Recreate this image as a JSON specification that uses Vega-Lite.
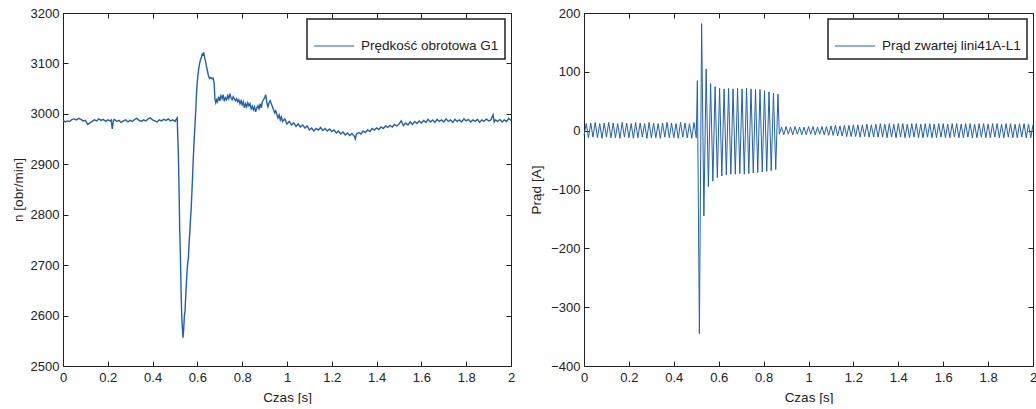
{
  "$schema": "https://vega.github.io/schema/vega-lite/v6.json",
  "padding": {"left": 11, "top": 7, "right": 0, "bottom": 0},
  "background": "white",
  "config": {
    "font": "Liberation Sans",
    "view": {"stroke": null},
    "concat": {"spacing": 14},
    "axis": {
      "grid": false,
      "labelFontSize": 13,
      "titleFontSize": 13.5,
      "titleFontWeight": "normal",
      "labelColor": "#222",
      "titleColor": "#222",
      "tickColor": "#222",
      "domainColor": "#222",
      "domainWidth": 1,
      "tickSize": -5,
      "labelFlush": false,
      "labelOverlap": false
    },
    "legend": {
      "orient": "top-right",
      "offset": 6,
      "strokeColor": "#222",
      "strokeWidth": 1.5,
      "fillColor": "white",
      "padding": 6,
      "symbolType": "stroke",
      "symbolSize": 1600,
      "symbolStrokeWidth": 1.2,
      "labelFontSize": 13.5,
      "labelColor": "#222",
      "labelOffset": 6,
      "title": null
    }
  },
  "datasets": {
    "speed": [
      {"t":0.00,"v":2987},{"t":0.01,"v":2984},{"t":0.02,"v":2986},{"t":0.03,"v":2985},{"t":0.04,"v":2989},{"t":0.05,"v":2990},{"t":0.06,"v":2988},{"t":0.07,"v":2991},{"t":0.08,"v":2989},{"t":0.09,"v":2986},
      {"t":0.10,"v":2987},{"t":0.11,"v":2979},{"t":0.12,"v":2982},{"t":0.13,"v":2985},{"t":0.14,"v":2988},{"t":0.15,"v":2986},{"t":0.16,"v":2990},{"t":0.17,"v":2987},{"t":0.18,"v":2989},{"t":0.19,"v":2985},
      {"t":0.20,"v":2988},{"t":0.21,"v":2986},{"t":0.215,"v":2988},{"t":0.22,"v":2970},{"t":0.225,"v":2987},{"t":0.23,"v":2989},{"t":0.24,"v":2985},{"t":0.25,"v":2987},{"t":0.26,"v":2983},{"t":0.27,"v":2986},
      {"t":0.28,"v":2988},{"t":0.29,"v":2984},{"t":0.30,"v":2987},{"t":0.31,"v":2985},{"t":0.32,"v":2989},{"t":0.33,"v":2991},{"t":0.34,"v":2987},{"t":0.35,"v":2985},{"t":0.36,"v":2988},{"t":0.37,"v":2986},
      {"t":0.38,"v":2990},{"t":0.39,"v":2992},{"t":0.40,"v":2988},{"t":0.41,"v":2986},{"t":0.42,"v":2984},{"t":0.43,"v":2988},{"t":0.44,"v":2986},{"t":0.45,"v":2989},{"t":0.46,"v":2987},{"t":0.47,"v":2990},
      {"t":0.48,"v":2986},{"t":0.49,"v":2988},{"t":0.50,"v":2985},{"t":0.505,"v":2989},{"t":0.51,"v":2992},{"t":0.512,"v":2960},{"t":0.515,"v":2920},{"t":0.518,"v":2850},{"t":0.521,"v":2770},{"t":0.524,"v":2720},
      {"t":0.527,"v":2650},{"t":0.530,"v":2600},{"t":0.533,"v":2575},{"t":0.536,"v":2556},{"t":0.539,"v":2575},{"t":0.542,"v":2600},{"t":0.545,"v":2610},{"t":0.548,"v":2640},{"t":0.551,"v":2665},{"t":0.554,"v":2690},
      {"t":0.557,"v":2705},{"t":0.560,"v":2715},{"t":0.563,"v":2745},{"t":0.566,"v":2765},{"t":0.569,"v":2790},{"t":0.572,"v":2810},{"t":0.575,"v":2840},{"t":0.578,"v":2870},{"t":0.581,"v":2905},{"t":0.584,"v":2935},
      {"t":0.587,"v":2960},{"t":0.590,"v":2985},{"t":0.593,"v":3010},{"t":0.596,"v":3040},{"t":0.599,"v":3060},{"t":0.602,"v":3075},{"t":0.606,"v":3090},{"t":0.610,"v":3100},{"t":0.614,"v":3108},{"t":0.618,"v":3112},
      {"t":0.622,"v":3120},{"t":0.625,"v":3115},{"t":0.628,"v":3122},{"t":0.632,"v":3112},{"t":0.636,"v":3105},{"t":0.640,"v":3095},{"t":0.645,"v":3085},{"t":0.650,"v":3074},{"t":0.655,"v":3070},{"t":0.660,"v":3072},
      {"t":0.665,"v":3070},{"t":0.670,"v":3071},{"t":0.675,"v":3060},{"t":0.678,"v":3030},{"t":0.682,"v":3022},{"t":0.686,"v":3028},{"t":0.690,"v":3024},{"t":0.695,"v":3034},{"t":0.70,"v":3026},{"t":0.705,"v":3036},
      {"t":0.71,"v":3030},{"t":0.715,"v":3038},{"t":0.72,"v":3025},{"t":0.725,"v":3032},{"t":0.73,"v":3028},{"t":0.735,"v":3036},{"t":0.74,"v":3030},{"t":0.745,"v":3040},{"t":0.75,"v":3032},{"t":0.755,"v":3028},
      {"t":0.76,"v":3034},{"t":0.77,"v":3026},{"t":0.775,"v":3030},{"t":0.78,"v":3024},{"t":0.785,"v":3028},{"t":0.79,"v":3020},{"t":0.795,"v":3026},{"t":0.80,"v":3018},{"t":0.805,"v":3024},{"t":0.81,"v":3012},
      {"t":0.815,"v":3020},{"t":0.82,"v":3014},{"t":0.825,"v":3022},{"t":0.83,"v":3016},{"t":0.835,"v":3020},{"t":0.84,"v":3010},{"t":0.845,"v":3015},{"t":0.85,"v":3008},{"t":0.855,"v":3014},{"t":0.86,"v":3004},
      {"t":0.865,"v":3012},{"t":0.87,"v":3016},{"t":0.875,"v":3010},{"t":0.88,"v":3020},{"t":0.885,"v":3012},{"t":0.89,"v":3024},{"t":0.895,"v":3028},{"t":0.90,"v":3032},{"t":0.905,"v":3038},{"t":0.91,"v":3022},
      {"t":0.915,"v":3014},{"t":0.92,"v":3022},{"t":0.925,"v":3026},{"t":0.93,"v":3020},{"t":0.935,"v":3014},{"t":0.94,"v":3008},{"t":0.945,"v":3002},{"t":0.95,"v":3006},{"t":0.955,"v":2998},{"t":0.96,"v":2992},
      {"t":0.965,"v":2998},{"t":0.97,"v":2988},{"t":0.975,"v":2994},{"t":0.98,"v":2985},{"t":0.99,"v":2990},{"t":1.00,"v":2980},{"t":1.01,"v":2985},{"t":1.02,"v":2978},{"t":1.03,"v":2982},{"t":1.04,"v":2975},
      {"t":1.05,"v":2980},{"t":1.06,"v":2974},{"t":1.07,"v":2978},{"t":1.08,"v":2972},{"t":1.09,"v":2976},{"t":1.10,"v":2968},{"t":1.11,"v":2972},{"t":1.12,"v":2966},{"t":1.13,"v":2971},{"t":1.14,"v":2968},
      {"t":1.15,"v":2973},{"t":1.16,"v":2967},{"t":1.17,"v":2971},{"t":1.18,"v":2966},{"t":1.19,"v":2970},{"t":1.20,"v":2965},{"t":1.21,"v":2968},{"t":1.22,"v":2962},{"t":1.23,"v":2966},{"t":1.24,"v":2960},
      {"t":1.25,"v":2964},{"t":1.26,"v":2958},{"t":1.27,"v":2962},{"t":1.28,"v":2957},{"t":1.29,"v":2961},{"t":1.30,"v":2956},{"t":1.305,"v":2950},{"t":1.31,"v":2960},{"t":1.32,"v":2963},{"t":1.33,"v":2960},
      {"t":1.34,"v":2966},{"t":1.35,"v":2963},{"t":1.36,"v":2968},{"t":1.37,"v":2965},{"t":1.38,"v":2971},{"t":1.39,"v":2968},{"t":1.40,"v":2972},{"t":1.41,"v":2969},{"t":1.42,"v":2974},{"t":1.43,"v":2971},
      {"t":1.44,"v":2976},{"t":1.45,"v":2973},{"t":1.46,"v":2977},{"t":1.47,"v":2974},{"t":1.48,"v":2979},{"t":1.49,"v":2976},{"t":1.50,"v":2980},{"t":1.51,"v":2986},{"t":1.52,"v":2977},{"t":1.53,"v":2982},
      {"t":1.54,"v":2978},{"t":1.55,"v":2984},{"t":1.56,"v":2979},{"t":1.57,"v":2985},{"t":1.58,"v":2981},{"t":1.59,"v":2986},{"t":1.60,"v":2982},{"t":1.61,"v":2987},{"t":1.62,"v":2983},{"t":1.63,"v":2989},
      {"t":1.64,"v":2984},{"t":1.65,"v":2988},{"t":1.66,"v":2983},{"t":1.67,"v":2989},{"t":1.68,"v":2985},{"t":1.69,"v":2988},{"t":1.70,"v":2984},{"t":1.71,"v":2990},{"t":1.72,"v":2985},{"t":1.73,"v":2988},
      {"t":1.74,"v":2983},{"t":1.75,"v":2989},{"t":1.76,"v":2985},{"t":1.77,"v":2988},{"t":1.78,"v":2984},{"t":1.79,"v":2990},{"t":1.80,"v":2986},{"t":1.81,"v":2989},{"t":1.82,"v":2984},{"t":1.83,"v":2988},
      {"t":1.84,"v":2985},{"t":1.85,"v":2989},{"t":1.86,"v":2983},{"t":1.87,"v":2988},{"t":1.88,"v":2985},{"t":1.89,"v":2990},{"t":1.90,"v":2986},{"t":1.91,"v":2988},{"t":1.92,"v":2998},{"t":1.925,"v":2984},
      {"t":1.93,"v":2988},{"t":1.94,"v":2985},{"t":1.95,"v":2989},{"t":1.96,"v":2984},{"t":1.97,"v":2988},{"t":1.98,"v":2985},{"t":1.99,"v":2991},{"t":2.00,"v":2987}
    ],
    "current": [
      {"t":0.00,"i":-8},{"t":0.01,"i":12},{"t":0.02,"i":-12},{"t":0.03,"i":13},{"t":0.04,"i":-11},{"t":0.05,"i":14},{"t":0.06,"i":-12},{"t":0.07,"i":12},{"t":0.08,"i":-13},{"t":0.09,"i":13},
      {"t":0.10,"i":-11},{"t":0.11,"i":14},{"t":0.12,"i":-12},{"t":0.13,"i":13},{"t":0.14,"i":-12},{"t":0.15,"i":12},{"t":0.16,"i":-13},{"t":0.17,"i":14},{"t":0.18,"i":-11},{"t":0.19,"i":13},
      {"t":0.20,"i":-12},{"t":0.21,"i":12},{"t":0.22,"i":-13},{"t":0.23,"i":14},{"t":0.24,"i":-12},{"t":0.25,"i":13},{"t":0.26,"i":-11},{"t":0.27,"i":12},{"t":0.28,"i":-13},{"t":0.29,"i":14},
      {"t":0.30,"i":-12},{"t":0.31,"i":13},{"t":0.32,"i":-12},{"t":0.33,"i":12},{"t":0.34,"i":-13},{"t":0.35,"i":13},{"t":0.36,"i":-11},{"t":0.37,"i":14},{"t":0.38,"i":-12},{"t":0.39,"i":13},
      {"t":0.40,"i":-12},{"t":0.41,"i":12},{"t":0.42,"i":-13},{"t":0.43,"i":14},{"t":0.44,"i":-11},{"t":0.45,"i":13},{"t":0.46,"i":-12},{"t":0.47,"i":12},{"t":0.48,"i":-13},{"t":0.49,"i":14},
      {"t":0.50,"i":-12},{"t":0.505,"i":85},{"t":0.514,"i":-345},{"t":0.524,"i":182},{"t":0.534,"i":-145},{"t":0.544,"i":105},{"t":0.554,"i":-95},{"t":0.564,"i":80},{"t":0.574,"i":-86},{"t":0.584,"i":75},
      {"t":0.594,"i":-80},{"t":0.604,"i":72},{"t":0.614,"i":-77},{"t":0.624,"i":71},{"t":0.634,"i":-75},{"t":0.644,"i":72},{"t":0.654,"i":-74},{"t":0.664,"i":71},{"t":0.674,"i":-74},{"t":0.684,"i":72},
      {"t":0.694,"i":-73},{"t":0.704,"i":71},{"t":0.714,"i":-74},{"t":0.724,"i":72},{"t":0.734,"i":-73},{"t":0.744,"i":71},{"t":0.754,"i":-72},{"t":0.764,"i":70},{"t":0.774,"i":-71},{"t":0.784,"i":70},
      {"t":0.794,"i":-70},{"t":0.804,"i":68},{"t":0.814,"i":-69},{"t":0.824,"i":66},{"t":0.834,"i":-68},{"t":0.844,"i":64},{"t":0.854,"i":-66},{"t":0.864,"i":62},
      {"t":0.87,"i":-6},{"t":0.88,"i":6},{"t":0.89,"i":-7},{"t":0.90,"i":7},{"t":0.91,"i":-6},{"t":0.92,"i":6},{"t":0.93,"i":-7},{"t":0.94,"i":7},{"t":0.95,"i":-6},{"t":0.96,"i":6},
      {"t":0.97,"i":-7},{"t":0.98,"i":6},{"t":0.99,"i":-7},{"t":1.00,"i":7},{"t":1.01,"i":-6},{"t":1.02,"i":7},{"t":1.03,"i":-7},{"t":1.04,"i":6},{"t":1.05,"i":-6},{"t":1.06,"i":7},
      {"t":1.07,"i":-7},{"t":1.08,"i":7},{"t":1.09,"i":-8},{"t":1.10,"i":8},{"t":1.11,"i":-8},{"t":1.12,"i":9},{"t":1.13,"i":-9},{"t":1.14,"i":8},{"t":1.15,"i":-9},{"t":1.16,"i":9},
      {"t":1.17,"i":-10},{"t":1.18,"i":9},{"t":1.19,"i":-10},{"t":1.20,"i":10},{"t":1.21,"i":-10},{"t":1.22,"i":10},{"t":1.23,"i":-11},{"t":1.24,"i":10},{"t":1.25,"i":-10},{"t":1.26,"i":11},
      {"t":1.27,"i":-11},{"t":1.28,"i":10},{"t":1.29,"i":-11},{"t":1.30,"i":11},{"t":1.31,"i":-11},{"t":1.32,"i":12},{"t":1.33,"i":-11},{"t":1.34,"i":11},{"t":1.35,"i":-12},{"t":1.36,"i":12},
      {"t":1.37,"i":-11},{"t":1.38,"i":11},{"t":1.39,"i":-12},{"t":1.40,"i":12},{"t":1.41,"i":-11},{"t":1.42,"i":12},{"t":1.43,"i":-12},{"t":1.44,"i":11},{"t":1.45,"i":-12},{"t":1.46,"i":12},
      {"t":1.47,"i":-11},{"t":1.48,"i":12},{"t":1.49,"i":-12},{"t":1.50,"i":11},{"t":1.51,"i":-12},{"t":1.52,"i":12},{"t":1.53,"i":-11},{"t":1.54,"i":12},{"t":1.55,"i":-12},{"t":1.56,"i":11},
      {"t":1.57,"i":-12},{"t":1.58,"i":12},{"t":1.59,"i":-11},{"t":1.60,"i":12},{"t":1.61,"i":-12},{"t":1.62,"i":11},{"t":1.63,"i":-12},{"t":1.64,"i":12},{"t":1.65,"i":-11},{"t":1.66,"i":12},
      {"t":1.67,"i":-12},{"t":1.68,"i":11},{"t":1.69,"i":-12},{"t":1.70,"i":12},{"t":1.71,"i":-11},{"t":1.72,"i":12},{"t":1.73,"i":-12},{"t":1.74,"i":11},{"t":1.75,"i":-12},{"t":1.76,"i":12},
      {"t":1.77,"i":-11},{"t":1.78,"i":12},{"t":1.79,"i":-12},{"t":1.80,"i":11},{"t":1.81,"i":-12},{"t":1.82,"i":12},{"t":1.83,"i":-11},{"t":1.84,"i":12},{"t":1.85,"i":-12},{"t":1.86,"i":11},
      {"t":1.87,"i":-12},{"t":1.88,"i":12},{"t":1.89,"i":-11},{"t":1.90,"i":12},{"t":1.91,"i":-12},{"t":1.92,"i":11},{"t":1.93,"i":-12},{"t":1.94,"i":12},{"t":1.95,"i":-11},{"t":1.96,"i":12},
      {"t":1.97,"i":-12},{"t":1.98,"i":11},{"t":1.99,"i":-12},{"t":2.00,"i":10}
    ]
  },
  "resolve": {"scale": {"color": "independent"}, "legend": {"color": "independent"}},
  "hconcat": [
    {
      "width": 448,
      "height": 353,
      "data": {"name": "speed"},
      "layer": [
        {
          "mark": {"type": "line", "strokeWidth": 1.4, "interpolate": "linear"},
          "encoding": {
            "x": {"field": "t", "type": "quantitative", "scale": {"domain": [0, 2], "nice": false},
                  "axis": {"orient": "bottom", "title": "Czas [s]", "values": [0,0.2,0.4,0.6,0.8,1,1.2,1.4,1.6,1.8,2], "format": ".1~f", "labelPadding": 10, "titlePadding": 6}},
            "y": {"field": "v", "type": "quantitative", "scale": {"domain": [2500, 3200], "nice": false, "zero": false},
                  "axis": {"orient": "left", "title": "n [obr/min]", "values": [2500,2600,2700,2800,2900,3000,3100,3200], "format": "d", "labelPadding": 9, "titlePadding": 5}},
            "color": {"datum": "Prędkość obrotowa G1", "type": "nominal", "scale": {"range": ["#2060b0"]}}
          }
        },
        {
          "mark": {"type": "line", "opacity": 0},
          "encoding": {
            "x": {"field": "t", "type": "quantitative",
                  "axis": {"orient": "top", "title": null, "labels": false, "values": [0,0.2,0.4,0.6,0.8,1,1.2,1.4,1.6,1.8,2]}},
            "y": {"field": "v", "type": "quantitative",
                  "axis": {"orient": "right", "title": null, "labels": false, "values": [2500,2600,2700,2800,2900,3000,3100,3200]}}
          }
        }
      ],
      "resolve": {"axis": {"x": "independent", "y": "independent"}}
    },
    {
      "width": 449,
      "height": 353,
      "data": {"name": "current"},
      "layer": [
        {
          "mark": {"type": "line", "strokeWidth": 1, "interpolate": "linear"},
          "encoding": {
            "x": {"field": "t", "type": "quantitative", "scale": {"domain": [0, 2], "nice": false},
                  "axis": {"orient": "bottom", "title": "Czas [s]", "values": [0,0.2,0.4,0.6,0.8,1,1.2,1.4,1.6,1.8,2], "format": ".1~f", "labelPadding": 10, "titlePadding": 6}},
            "y": {"field": "i", "type": "quantitative", "scale": {"domain": [-400, 200], "nice": false},
                  "axis": {"orient": "left", "title": "Prąd [A]", "values": [-400,-300,-200,-100,0,100,200], "labelPadding": 9, "titlePadding": 7}},
            "color": {"datum": "Prąd zwartej lini41A-L1", "type": "nominal", "scale": {"range": ["#2060b0"]}}
          }
        },
        {
          "mark": {"type": "line", "opacity": 0},
          "encoding": {
            "x": {"field": "t", "type": "quantitative",
                  "axis": {"orient": "top", "title": null, "labels": false, "values": [0,0.2,0.4,0.6,0.8,1,1.2,1.4,1.6,1.8,2]}},
            "y": {"field": "i", "type": "quantitative",
                  "axis": {"orient": "right", "title": null, "labels": false, "values": [-400,-300,-200,-100,0,100,200]}}
          }
        }
      ],
      "resolve": {"axis": {"x": "independent", "y": "independent"}}
    }
  ]
}
